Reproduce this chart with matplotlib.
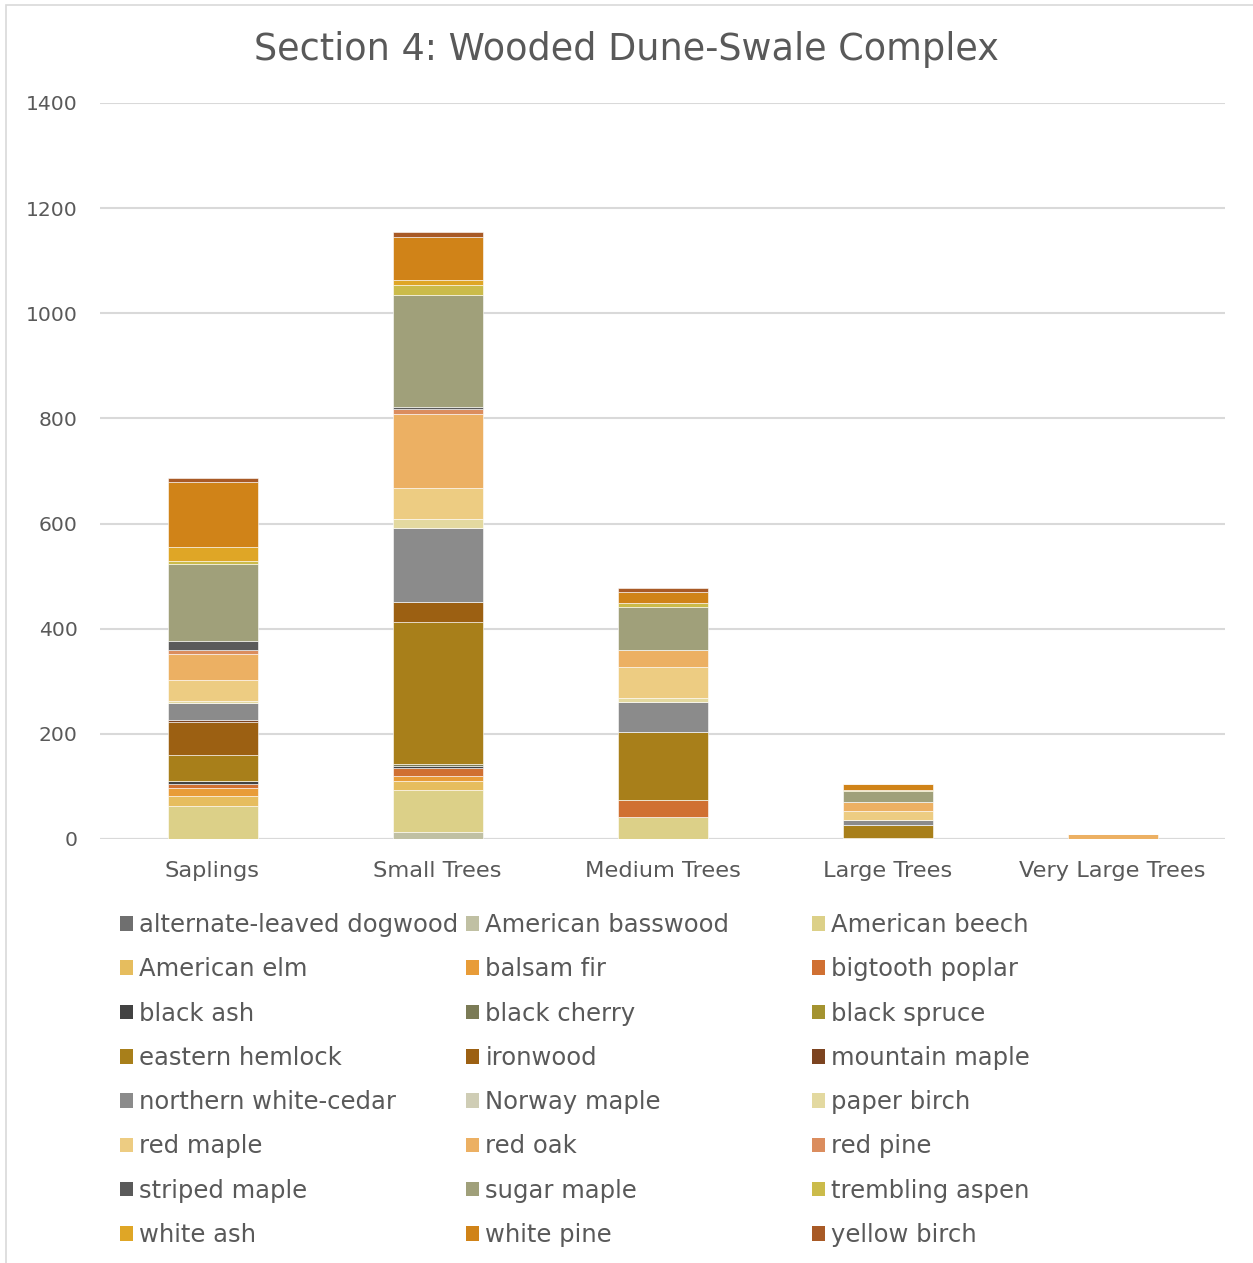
import numpy as np
import matplotlib
matplotlib.use('Agg')
import matplotlib.pyplot as plt
from matplotlib.patches import Patch, Rectangle

categories = ['Saplings', 'Small Trees', 'Medium Trees', 'Large Trees', 'Very Large Trees']

species = ['alternate-leaved dogwood', 'American basswood', 'American beech',
           'American elm', 'balsam fir', 'bigtooth poplar',
           'black ash', 'black cherry', 'black spruce',
           'eastern hemlock', 'ironwood', 'mountain maple',
           'northern white-cedar', 'Norway maple', 'paper birch',
           'red maple', 'red oak', 'red pine',
           'striped maple', 'sugar maple', 'trembling aspen',
           'white ash', 'white pine', 'yellow birch']

colors = ['#6f6f6f', '#c0c0a3', '#dcd088',
          '#e6bd5e', '#e89c38', '#d07032',
          '#424242', '#7b7b56', '#a49330',
          '#a87f1a', '#9c6012', '#7c4420',
          '#8b8b8b', '#cfcdb5', '#e3d9a0',
          '#edcc82', '#ecb063', '#db8d5e',
          '#5a5a5a', '#a0a07a', '#cbbb4a',
          '#dfa626', '#d08318', '#a85a26']

# stems per size class, one list per species (Saplings, Small, Medium, Large, Very Large)
alt_dogwood   = [0, 0, 0, 0, 0]
basswood      = [0, 13, 0, 0, 0]
beech         = [63, 81, 41, 2, 0]
elm           = [18, 17, 0, 0, 0]
balsam_fir    = [16, 9, 0, 0, 0]
bigtooth      = [7, 15, 33, 0, 0]
black_ash     = [7, 4, 0, 0, 0]
black_cherry  = [0, 3, 0, 0, 0]
black_spruce  = [0, 0, 0, 0, 0]
hemlock       = [48, 271, 130, 24, 0]
ironwood      = [63, 37, 0, 0, 0]
mtn_maple     = [4, 0, 0, 0, 0]
cedar         = [32, 142, 56, 11, 0]
norway_maple  = [0, 0, 0, 0, 0]
paper_birch   = [4, 17, 9, 0, 0]
red_maple     = [40, 59, 58, 16, 0]
red_oak       = [50, 140, 32, 18, 9]
red_pine      = [8, 9, 0, 0, 0]
striped_maple = [17, 4, 0, 0, 0]
sugar_maple   = [146, 213, 82, 20, 0]
trembling     = [5, 20, 8, 3, 0]
white_ash     = [28, 9, 0, 0, 0]
white_pine    = [124, 83, 20, 11, 0]
yellow_birch  = [6, 9, 8, 0, 0]

values = [alt_dogwood, basswood, beech, elm, balsam_fir, bigtooth,
          black_ash, black_cherry, black_spruce, hemlock, ironwood, mtn_maple,
          cedar, norway_maple, paper_birch, red_maple, red_oak, red_pine,
          striped_maple, sugar_maple, trembling, white_ash, white_pine, yellow_birch]

txt = '#595959'
grid = '#d9d9d9'

fig = plt.figure(figsize=(12.53, 12.63), dpi=100)
ax = fig.add_axes([100/1253, 424/1263, 1125/1253, 736/1263])

x = np.arange(len(categories))
bottom = np.zeros(len(categories))
for name, col, v in zip(species, colors, values):
    v = np.array(v, dtype=float)
    ax.bar(x, v, 0.4, bottom=bottom, color=col, edgecolor='white', linewidth=0.4,
           label=name, zorder=3)
    bottom += v

ax.set_xlim(-0.5, 4.5)
ax.set_ylim(0, 1400)
ax.set_yticks(np.arange(0, 1401, 200))
ax.set_xticks(x)
ax.set_xticklabels(categories)
ax.yaxis.grid(True, color=grid, linewidth=1.5, zorder=0)
for s in ax.spines.values():
    s.set_visible(False)
ax.tick_params(length=0, colors=txt)
ax.tick_params(axis='x', labelsize=16.2, pad=16)
ax.tick_params(axis='y', labelsize=14.6, pad=16)
ax.axhline(0, color=grid, linewidth=1.5, zorder=2)

fig.text(0.5, 1 - 49/1263, 'Section 4: Wooded Dune-Swale Complex', ha='center', va='center',
         fontsize=26.4, color=txt)

# legend laid out row by row in three columns
handles = [Patch(facecolor=c) for c in colors]
col_x = [120, 466, 812]
for c in range(3):
    idx = list(range(c, len(species), 3))
    leg = fig.legend([handles[i] for i in idx], [species[i] for i in idx],
                     loc='upper left', bbox_to_anchor=(col_x[c]/1253, 1 - 913/1263),
                     frameon=False, fontsize=17.5, handlelength=0.55, handleheight=0.55,
                     handletextpad=0.25, labelspacing=0.835, borderpad=0, borderaxespad=0)
    for t in leg.get_texts():
        t.set_color(txt)

fig.patches.append(Rectangle((6/1253, -0.01), 1.05, 1 - 5/1263 + 0.01, transform=fig.transFigure,
                             fill=False, edgecolor=grid, linewidth=1.2))

fig.savefig('out.png', dpi=100, facecolor='white')
